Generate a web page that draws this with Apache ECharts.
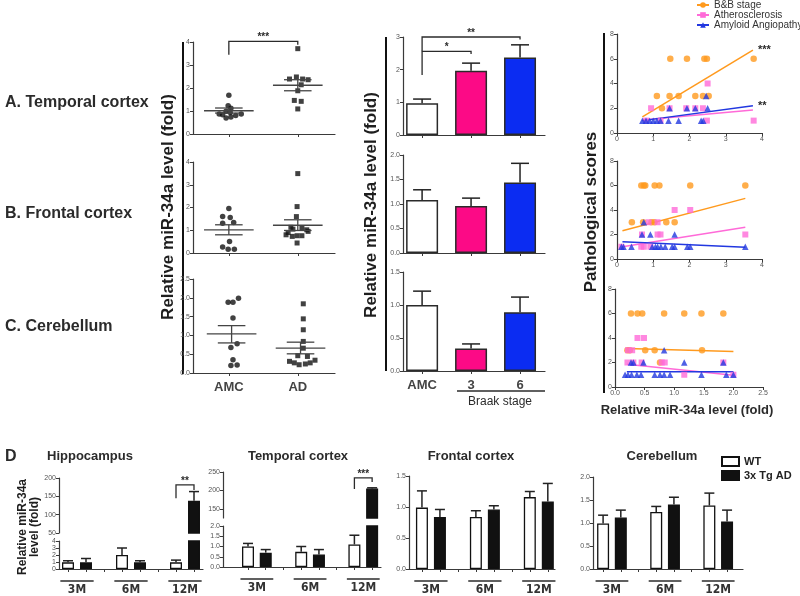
<!DOCTYPE html>
<html>
<head>
<meta charset="utf-8">
<script src="https://cdn.jsdelivr.net/npm/echarts@6/dist/echarts.min.js"></script>
<style>
  html, body { margin: 0; background: #fff; }
  #main { width: 800px; height: 596px; }
</style>
</head>
<body>
<div id="main"></div>
<script>
const FONT = "'Liberation Sans', Arial, sans-serif";
const NARROW = "'Liberation Sans Narrow', 'DejaVu Sans Condensed', sans-serif";
const INK = '#2b2b2b';

// ---- A-C left column: samples (x = jittered slot, 1 = AMC, 2 = AD) ----
const groupLabels = ['AMC', 'AD'];
const tcAMC = [[1.00,1.68],[0.99,1.23],[1.03,1.12],[0.96,0.99],[1.02,0.94],[0.86,0.87],[0.91,0.84],[0.96,0.70],[1.03,0.74],[1.10,0.80],[1.18,0.87]];
const tcAD = [[2.00,3.71],[1.88,2.39],[1.98,2.48],[2.07,2.39],[2.15,2.36],[2.05,2.14],[2.00,1.88],[1.95,1.46],[2.05,1.42],[2.00,1.09]];
const fcAMC = [[1.00,1.96],[0.91,1.60],[1.02,1.56],[1.07,1.34],[0.91,1.31],[1.01,0.51],[0.91,0.26],[0.99,0.17],[1.08,0.17]];
const fcAD = [[2.00,3.49],[1.99,2.04],[1.98,1.60],[1.90,1.13],[2.06,1.09],[2.13,1.02],[1.86,0.90],[1.93,1.05],[1.83,0.80],[1.92,0.73],[1.99,0.76],[2.06,0.76],[2.15,0.95],[1.99,0.44]];
const cbAMC = [[0.99,1.88],[1.06,1.88],[1.14,1.99],[1.06,1.46],[1.12,0.78],[1.03,0.68],[1.06,0.35],[1.03,0.20],[1.12,0.21]];
const cbAD = [[2.08,1.84],[2.08,1.44],[2.08,1.15],[2.08,0.84],[2.08,0.66],[2.00,0.46],[2.14,0.44],[1.88,0.31],[1.95,0.27],[2.02,0.22],[2.11,0.24],[2.18,0.27],[2.25,0.34]];
// [slot, mean, mean+SEM, mean-SEM]
const tcMean = [[1.00,1.01,1.13,0.91],[2.00,2.12,2.36,1.88]];
const fcMean = [[1.00,1.02,1.24,0.80],[2.00,1.22,1.46,0.99]];
const cbMean = [[1.04,1.04,1.26,0.80],[2.04,0.66,0.82,0.51]];

// ---- middle column: Braak stage bars ----
const braakCats = ['AMC', '3', '6'];
const braakTc = [0.97, 1.97, 2.37], braakTcErr = [1.10, 2.20, 2.76];
const braakFc = [1.08, 0.96, 1.44], braakFcErr = [1.29, 1.12, 1.83];
const braakCb = [1.00, 0.34, 0.89], braakCbErr = [1.21, 0.41, 1.12];

// ---- right column: pathological scores vs miR-34a ----
const bbTc = [[1.10,3],[1.45,3],[1.70,3],[2.16,3],[2.37,3],[2.53,3],[1.47,6],[1.93,6],[2.41,6],[2.48,6],[3.77,6],[1.24,2]];
const athTc = [[0.94,2],[1.45,2],[1.91,2],[2.16,2],[2.37,2],[2.50,4],[2.48,1],[3.77,1],[0.80,1],[1.20,1]];
const caaTc = [[0.70,1],[0.80,1],[0.90,1],[1.00,1],[1.10,1],[1.20,1],[1.42,1],[1.70,1],[2.32,1],[2.38,1],[2.46,3],[1.45,2],[1.93,2],[2.16,2],[2.50,2]];
const bbFc = [[0.67,6],[0.74,6],[0.78,6],[1.04,6],[1.17,6],[2.02,6],[3.54,6],[0.41,3],[0.72,3],[0.95,3],[1.03,3],[1.36,3],[1.59,3]];
const athFc = [[1.59,4],[2.02,4],[0.87,3],[1.12,3],[0.69,2],[1.12,2],[1.20,2],[3.54,2],[0.12,1],[0.67,1],[0.74,1],[0.92,1]];
const caaFc = [[0.74,3],[0.69,2],[0.92,2],[1.59,2],[0.12,1],[0.18,1],[0.40,1],[0.97,1],[1.06,1],[1.12,1],[1.21,1],[1.33,1],[1.52,1],[1.59,1],[1.94,1],[2.02,1],[3.54,1]];
const bbCb = [[0.27,6],[0.38,6],[0.46,6],[0.83,6],[1.17,6],[1.46,6],[1.83,6],[0.21,3],[0.25,3],[0.51,3],[0.67,3],[1.47,3],[0.76,2]];
const athCb = [[0.38,4],[0.49,4],[0.22,3],[0.29,3],[0.21,2],[0.31,2],[0.45,2],[0.79,2],[0.84,2],[1.83,2],[1.17,1],[2.00,1]];
const caaCb = [[0.83,3],[0.27,2],[0.31,2],[0.48,2],[1.17,2],[1.83,2],[0.17,1],[0.22,1],[0.28,1],[0.37,1],[0.44,1],[0.67,1],[0.76,1],[0.83,1],[0.93,1],[1.46,1],[1.88,1],[2.00,1]];
// regression lines (end points)
const fitBbTc = [[0.70,1.30],[3.75,6.70]], fitAthTc = [[0.70,1.05],[3.75,1.85]], fitCaaTc = [[0.70,1.00],[3.75,2.20]];
const fitBbFc = [[0.15,2.30],[3.54,4.95]], fitAthFc = [[0.15,1.00],[3.54,2.60]], fitCaaFc = [[0.15,1.40],[3.54,0.95]];
const fitBbCb = [[0.20,3.15],[2.00,2.90]], fitAthCb = [[0.20,1.85],[2.00,0.95]], fitCaaCb = [[0.20,1.25],[2.00,1.25]];

// ---- D: mouse model, WT vs 3xTg AD ----
const ageGroups = ['3M', '6M', '12M'];
const hipWT = [0.95, 2.00, 0.95], hipWTErr = [1.18, 3.00, 1.27];
const hipTg = [0.95, 0.95, 138], hipTgErr = [1.50, 1.18, 163];
const tmpWT = [1.00, 0.74, 1.10], tmpWTErr = [1.15, 1.00, 1.55];
const tmpTg = [0.70, 0.61, 205], tmpTgErr = [0.85, 0.85, 207];
const frnWT = [0.99, 0.84, 1.16], frnWTErr = [1.26, 0.94, 1.25];
const frnTg = [0.84, 0.96, 1.09], frnTgErr = [0.96, 1.02, 1.38];
const cblWT = [0.99, 1.24, 1.38], cblWTErr = [1.17, 1.36, 1.65];
const cblTg = [1.12, 1.40, 1.03], cblTgErr = [1.28, 1.56, 1.28];

const braakColors = ['#ffffff', '#fc0a86', '#0b2cf2'];
const BB = '#ff9a1e', ATH = '#ff6ad8', CAA = '#2238e0';

const chart = echarts.init(document.getElementById('main'), null, { renderer: 'canvas' });

function axis(grid, min, max, o = {}) {
  return {
    type: 'value', gridIndex: grid, min, max, interval: o.interval, show: o.show !== false,
    axisLine: { onZero: false, lineStyle: { color: '#3a3a3a', width: 1.2 } },
    axisTick: { show: true, length: 3, customValues: o.ticksAt, lineStyle: { color: '#3a3a3a' } },
    axisLabel: {
      show: o.labels !== false, customValues: o.labelsAt, formatter: o.fmt,
      fontSize: o.fontSize || 7, color: o.color || '#555', fontFamily: o.font || FONT,
      fontWeight: o.weight || 'normal', margin: o.margin || 3
    },
    splitLine: { show: false }
  };
}
const fix1 = v => v.toFixed(1);
const ageFmt = v => ageGroups[Math.round((v - 1.5) / 3)];
const ageLabel = { labelsAt: [1.5, 4.5, 7.5], fmt: ageFmt, fontSize: 12, weight: 'bold', color: '#333', font: NARROW, margin: 15 };
const ageTicks = [1, 2, 3, 4, 5, 6, 7, 8];

function dots(grid, pts, symbol, color, size, name) {
  return { type: 'scatter', name, xAxisIndex: grid, yAxisIndex: grid, symbol, symbolSize: size, data: pts, itemStyle: { color }, z: 3 };
}

function meanSeries(grid, rows) {
  return {
    type: 'custom', xAxisIndex: grid, yAxisIndex: grid, silent: true, z: 4, data: rows,
    renderItem(p, api) {
      const c = api.value(0);
      const st = { stroke: '#444', lineWidth: 1.3 };
      const seg = (x0, x1, y) => {
        const a = api.coord([x0, y]), b = api.coord([x1, y]);
        return { type: 'line', shape: { x1: a[0], y1: a[1], x2: b[0], y2: b[1] }, style: st };
      };
      const hi = api.coord([c, api.value(2)]), lo = api.coord([c, api.value(3)]);
      return { type: 'group', children: [
        seg(c - 0.36, c + 0.36, api.value(1)),
        seg(c - 0.2, c + 0.2, api.value(2)),
        seg(c - 0.2, c + 0.2, api.value(3)),
        { type: 'line', shape: { x1: hi[0], y1: hi[1], x2: lo[0], y2: lo[1] }, style: st }
      ] };
    }
  };
}

function errSeries(grid, rows, half) {
  return {
    type: 'custom', xAxisIndex: grid, yAxisIndex: grid, silent: true, z: 3, data: rows,
    renderItem(p, api) {
      const b = api.coord([api.value(0), api.value(1)]);
      const t = api.coord([api.value(0), api.value(2)]);
      const st = { stroke: '#222', lineWidth: 1.5 };
      return { type: 'group', children: [
        { type: 'line', shape: { x1: b[0], y1: b[1], x2: t[0], y2: t[1] }, style: st },
        { type: 'line', shape: { x1: t[0] - half, y1: t[1], x2: t[0] + half, y2: t[1] }, style: st }
      ] };
    }
  };
}

function bracket(grid, x1, x2, top, footL, footR, stars) {
  return {
    type: 'custom', xAxisIndex: grid, yAxisIndex: grid, silent: true, z: 5,
    data: [[x1, x2, top, footL, footR]],
    renderItem(p, api) {
      const a = api.coord([api.value(0), api.value(3)]);
      const b = api.coord([api.value(0), api.value(2)]);
      const c = api.coord([api.value(1), api.value(2)]);
      const d = api.coord([api.value(1), api.value(4)]);
      return { type: 'group', children: [
        { type: 'polyline', shape: { points: [a, b, c, d] }, style: { stroke: INK, lineWidth: 1.3, fill: null } },
        { type: 'text', x: (b[0] + c[0]) / 2, y: b[1] + 1, style: { text: stars, textAlign: 'center', textVerticalAlign: 'bottom', font: 'bold 10px ' + FONT, fill: INK } }
      ] };
    }
  };
}

function braakSeries(grid, vals, errs) {
  return [
    {
      type: 'bar', xAxisIndex: grid, yAxisIndex: grid, barWidth: 32, z: 2,
      data: vals.map((v, i) => ({ value: [i, v], itemStyle: { color: braakColors[i] } })),
      itemStyle: { borderColor: '#2a2a2a', borderWidth: 1.5 }
    },
    errSeries(grid, vals.map((v, i) => [i, v, errs[i]]), 9)
  ];
}

function ageSeries(grid, wt, wtErr, tg, tgErr, yMin, yMax) {
  const xWT = wt.map((_, i) => 3 * i + 1), xTg = tg.map((_, i) => 3 * i + 2);
  const pick = (xs, v, e) => xs.map((x, i) => [x, v[i], e[i]]).filter(d => d[1] >= yMin && d[1] <= yMax);
  return [
    { type: 'bar', name: 'WT', xAxisIndex: grid, yAxisIndex: grid, barWidth: 12, barGap: '-100%', z: 2,
      data: xWT.map((x, i) => [x, wt[i]]), itemStyle: { color: '#fff', borderColor: '#111', borderWidth: 1.3 } },
    { type: 'bar', name: '3x Tg AD', xAxisIndex: grid, yAxisIndex: grid, barWidth: 12, barGap: '-100%', z: 2,
      data: xTg.map((x, i) => [x, tg[i]]), itemStyle: { color: '#111', borderColor: '#111', borderWidth: 1.3 } },
    errSeries(grid, pick(xWT, wt, wtErr), 5),
    errSeries(grid, pick(xTg, tg, tgErr), 5)
  ];
}

function ageUnderline(grid, yMin) {
  return {
    type: 'custom', xAxisIndex: grid, yAxisIndex: grid, silent: true,
    data: ageGroups.map((_, i) => [3 * i + 1.5, yMin]),
    renderItem(p, api) {
      const c = api.coord([api.value(0), api.value(1)]);
      const w = api.size([1.85, 0])[0];
      return { type: 'line', shape: { x1: c[0] - w / 2, y1: c[1] + 12, x2: c[0] + w / 2, y2: c[1] + 12 }, style: { stroke: INK, lineWidth: 1.6 } };
    }
  };
}

function fit(grid, name, pts, color, symbol, star) {
  const s = {
    type: 'line', name, xAxisIndex: grid, yAxisIndex: grid, data: pts, symbol, symbolSize: 6,
    showSymbol: false, lineStyle: { color, width: 1.5 }, itemStyle: { color }, z: 2, silent: true
  };
  if (star) s.endLabel = { show: true, formatter: star, color: INK, fontSize: 11, fontWeight: 'bold', distance: 5 };
  return s;
}

const txt = (text, x, y, size, align, weight) => ({
  type: 'text', x, y, silent: true,
  style: { text, fill: INK, textAlign: align || 'left', textVerticalAlign: 'middle', font: (weight || 'bold') + ' ' + size + 'px ' + FONT }
});
const rot = (text, x, y, size) => ({
  type: 'text', x, y, rotation: Math.PI / 2, silent: true,
  style: { text, fill: '#1e1e1e', textAlign: 'center', textVerticalAlign: 'middle', font: 'bold ' + size + 'px ' + FONT }
});
const vline = (x, y1, y2) => ({ type: 'line', silent: true, shape: { x1: x, y1, x2: x, y2 }, style: { stroke: '#111', lineWidth: 2 } });

const option = {
  animation: false,
  backgroundColor: '#fff',
  grid: [
    { left: 193, top: 42, width: 142, height: 92 },
    { left: 193, top: 162, width: 142, height: 91 },
    { left: 193, top: 279, width: 142, height: 94 },
    { left: 403, top: 37, width: 142, height: 98 },
    { left: 403, top: 155, width: 142, height: 98 },
    { left: 403, top: 272, width: 142, height: 99 },
    { left: 617, top: 34, width: 145, height: 99 },
    { left: 617, top: 161, width: 145, height: 98 },
    { left: 615, top: 289, width: 148, height: 98 },
    { left: 59, top: 478, width: 144, height: 55 },
    { left: 59, top: 541, width: 144, height: 29 },
    { left: 223, top: 472, width: 158, height: 46 },
    { left: 223, top: 526, width: 158, height: 41 },
    { left: 409, top: 476, width: 146, height: 93 },
    { left: 593, top: 477, width: 150, height: 94 }
  ],
  xAxis: [
    axis(0, 0.48, 2.54, { ticksAt: [1, 2], labels: false }),
    axis(1, 0.48, 2.54, { ticksAt: [1, 2], labels: false }),
    axis(2, 0.48, 2.54, { ticksAt: [1, 2], labelsAt: [1, 2], fmt: v => groupLabels[v - 1], fontSize: 13, weight: 'bold', color: '#444', margin: 8 }),
    axis(3, -0.39, 2.51, { ticksAt: [0, 1, 2], labels: false }),
    axis(4, -0.39, 2.51, { ticksAt: [0, 1, 2], labels: false }),
    axis(5, -0.39, 2.51, { ticksAt: [0, 1, 2], labelsAt: [0, 1, 2], fmt: v => braakCats[v], fontSize: 13, weight: 'bold', color: '#444', margin: 8 }),
    axis(6, 0, 4, { interval: 1 }),
    axis(7, 0, 4, { interval: 1 }),
    axis(8, 0, 2.5, { interval: 0.5, fmt: fix1 }),
    axis(9, 0.5, 8.5, { show: false }),
    axis(10, 0.5, 8.5, Object.assign({ ticksAt: ageTicks }, ageLabel)),
    axis(11, -0.41, 8.5, { show: false }),
    axis(12, -0.41, 8.5, Object.assign({ ticksAt: ageTicks }, ageLabel)),
    axis(13, 0.28, 8.4, Object.assign({ ticksAt: ageTicks }, ageLabel)),
    axis(14, 0.43, 8.9, Object.assign({ ticksAt: ageTicks }, ageLabel))
  ],
  yAxis: [
    axis(0, 0, 4, { interval: 1 }),
    axis(1, 0, 4, { interval: 1 }),
    axis(2, 0, 2.5, { interval: 0.5, fmt: fix1 }),
    axis(3, 0, 3, { interval: 1 }),
    axis(4, 0, 2, { interval: 0.5, fmt: fix1 }),
    axis(5, 0, 1.5, { interval: 0.5, fmt: fix1 }),
    axis(6, 0, 8, { interval: 2 }),
    axis(7, 0, 8, { interval: 2 }),
    axis(8, 0, 8, { interval: 2 }),
    axis(9, 50, 200, { interval: 50 }),
    axis(10, 0, 4, { interval: 1 }),
    axis(11, 125, 250, { ticksAt: [150, 200, 250], labelsAt: [150, 200, 250] }),
    axis(12, 0, 2, { interval: 0.5, fmt: fix1 }),
    axis(13, 0, 1.5, { interval: 0.5, fmt: fix1 }),
    axis(14, 0, 2, { interval: 0.5, fmt: fix1 })
  ],
  legend: [
    {
      data: ['B&B stage', 'Atherosclerosis', 'Amyloid Angiopathy'], orient: 'vertical', left: 696, top: 0,
      itemWidth: 12, itemHeight: 7, itemGap: 0, padding: 0, selectedMode: false,
      textStyle: { fontSize: 10, color: '#333', fontFamily: FONT }
    },
    {
      data: ['WT', '3x Tg AD'], orient: 'vertical', left: 721, top: 456, icon: 'rect',
      itemWidth: 17, itemHeight: 9, itemGap: 3, padding: 0, selectedMode: false,
      textStyle: { fontSize: 11, fontWeight: 'bold', color: '#222', fontFamily: FONT }
    }
  ],
  series: [
    fit(6, 'B&B stage', fitBbTc, BB, 'circle', '***'),
    fit(6, 'Atherosclerosis', fitAthTc, ATH, 'rect'),
    fit(6, 'Amyloid Angiopathy', fitCaaTc, CAA, 'triangle', '**'),
    fit(7, 'B&B stage', fitBbFc, BB, 'circle'),
    fit(7, 'Atherosclerosis', fitAthFc, ATH, 'rect'),
    fit(7, 'Amyloid Angiopathy', fitCaaFc, CAA, 'triangle'),
    fit(8, 'B&B stage', fitBbCb, BB, 'circle'),
    fit(8, 'Atherosclerosis', fitAthCb, ATH, 'rect'),
    fit(8, 'Amyloid Angiopathy', fitCaaCb, CAA, 'triangle'),
    dots(6, bbTc, 'circle', BB, 6.5, 'B&B stage'), dots(6, athTc, 'rect', ATH, 6, 'Atherosclerosis'), dots(6, caaTc, 'triangle', CAA, 6.5, 'Amyloid Angiopathy'),
    dots(7, bbFc, 'circle', BB, 6.5, 'B&B stage'), dots(7, athFc, 'rect', ATH, 6, 'Atherosclerosis'), dots(7, caaFc, 'triangle', CAA, 6.5, 'Amyloid Angiopathy'),
    dots(8, bbCb, 'circle', BB, 6.5, 'B&B stage'), dots(8, athCb, 'rect', ATH, 6, 'Atherosclerosis'), dots(8, caaCb, 'triangle', CAA, 6.5, 'Amyloid Angiopathy'),

    dots(0, tcAMC, 'circle', '#111', 5.5), dots(0, tcAD, 'rect', '#111', 5),
    dots(1, fcAMC, 'circle', '#111', 5.5), dots(1, fcAD, 'rect', '#111', 5),
    dots(2, cbAMC, 'circle', '#111', 5.5), dots(2, cbAD, 'rect', '#111', 5),
    meanSeries(0, tcMean), meanSeries(1, fcMean), meanSeries(2, cbMean),
    bracket(0, 1, 2, 4.03, 3.45, 3.88, '***'),

    ...braakSeries(3, braakTc, braakTcErr),
    ...braakSeries(4, braakFc, braakFcErr),
    ...braakSeries(5, braakCb, braakCbErr),
    bracket(3, 0, 1, 2.56, 1.84, 2.48, '*'),
    bracket(3, 0, 2, 3.0, 2.56, 2.92, '**'),

    ...ageSeries(9, hipWT, hipWTErr, hipTg, hipTgErr, 50, 200),
    ...ageSeries(10, hipWT, hipWTErr, hipTg, hipTgErr, 0, 4),
    ...ageSeries(11, tmpWT, tmpWTErr, tmpTg, tmpTgErr, 125, 250),
    ...ageSeries(12, tmpWT, tmpWTErr, tmpTg, tmpTgErr, 0, 2),
    ...ageSeries(13, frnWT, frnWTErr, frnTg, frnTgErr, 0, 1.5),
    ...ageSeries(14, cblWT, cblWTErr, cblTg, cblTgErr, 0, 2),
    bracket(9, 7, 8, 181, 145, 167, '**'),
    bracket(11, 7, 8, 234, 204, 223, '***'),
    ageUnderline(10, 0), ageUnderline(12, 0), ageUnderline(13, 0), ageUnderline(14, 0)
  ],
  graphic: [
    txt('A. Temporal cortex', 5, 103, 16),
    txt('B. Frontal cortex', 5, 214, 16),
    txt('C. Cerebellum', 5, 327, 16),
    vline(183, 42, 374), vline(386, 37, 371), vline(604, 33, 393),
    rot('Relative miR-34a level (fold)', 168, 207, 17),
    rot('Relative miR-34a level (fold)', 371, 205, 17),
    rot('Pathological scores', 591, 212, 17),
    { type: 'line', silent: true, shape: { x1: 457, y1: 391, x2: 545, y2: 391 }, style: { stroke: INK, lineWidth: 1.5 } },
    txt('Braak stage', 500, 402, 12, 'center', 'normal'),
    txt('Relative miR-34a level (fold)', 687, 410, 13, 'center'),
    txt('D', 5, 457, 16),
    txt('Hippocampus', 90, 456, 13, 'center'),
    txt('Temporal cortex', 298, 456, 13, 'center'),
    txt('Frontal cortex', 471, 456, 13, 'center'),
    txt('Cerebellum', 662, 456, 13, 'center'),
    rot('Relative miR-34a\nlevel (fold)', 29, 527, 12)
  ]
};

chart.setOption(option);
</script>
</body>
</html>
